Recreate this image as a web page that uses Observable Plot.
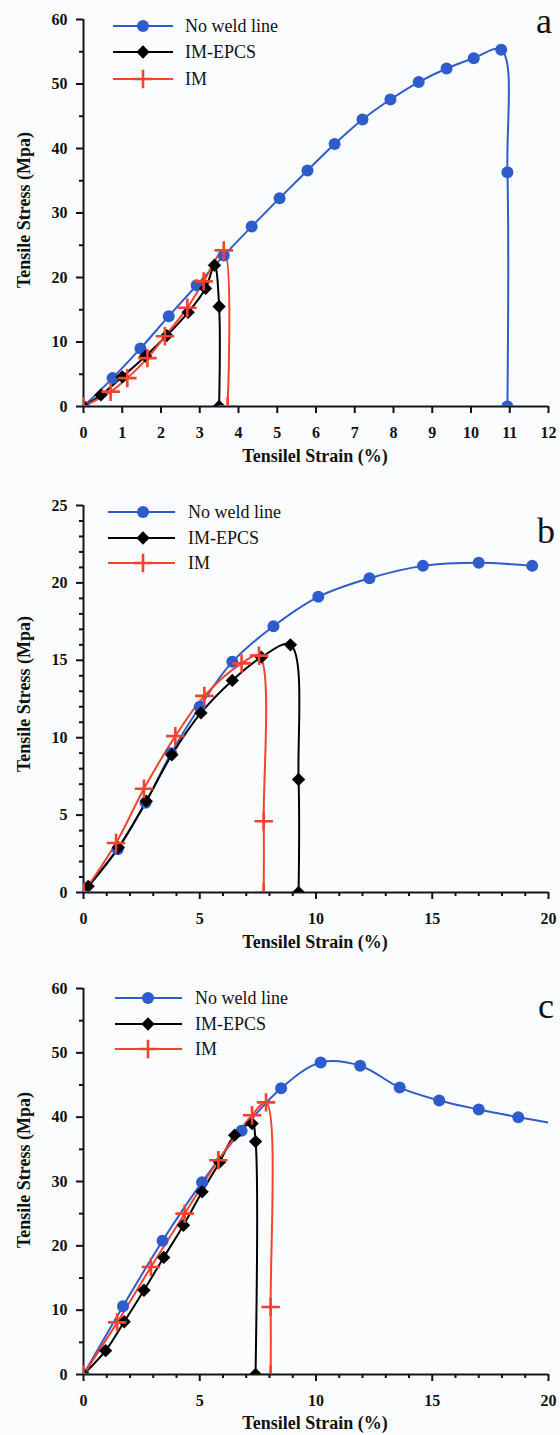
<!DOCTYPE html>
<html><head><meta charset="utf-8">
<script src="https://cdn.jsdelivr.net/npm/d3@7"></script>
<script src="https://cdn.jsdelivr.net/npm/@observablehq/plot@0.6"></script>
<style>
body{margin:0;background:#fbfcfe;}
#chart{width:560px;}
#chart svg{display:block;}
#chart svg text{font-family:"Liberation Serif","Times New Roman",serif !important;}
</style></head><body><div id="chart"></div>
<script>
const seriesNames = ["No weld line", "IM-EPCS", "IM"];
const seriesColors = ["#2f5ccc", "#000000", "#f2442c"];
const seriesSymbols = ["circle", "diamond2", "plus"];
const xTitle = "Tensilel Strain (%)";
const yTitle = "Tensile Stress (Mpa)";
const panelLetters = ["a", "b", "c"];

// Panel a
const aXTicks = [0,1,2,3,4,5,6,7,8,9,10,11,12];
const aYTicks = [0,10,20,30,40,50,60];
const aYMinor = [5,15,25,35,45,55];
const aNoWeldStrain = [0,0.75,1.47,2.2,2.92,3.62,4.34,5.06,5.78,6.48,7.2,7.92,8.65,9.37,10.07,10.78,10.94,10.94];
const aNoWeldStress = [0,4.4,9.0,14.0,18.8,23.4,27.9,32.3,36.6,40.7,44.5,47.6,50.3,52.4,54.0,55.3,36.3,0];
const aEpcsStrain = [0,0.45,1.0,1.6,2.15,2.7,3.15,3.38,3.5,3.5];
const aEpcsStress = [0,1.8,4.6,7.8,11.0,14.6,18.3,21.9,15.5,0];
const aImStrain = [0,0.7,1.13,1.65,2.1,2.68,3.1,3.62,3.72];
const aImStress = [0,2.3,4.4,7.5,10.9,15.3,19.4,24.2,0];

// Panel b
const bXTicks = [0,5,10,15,20];
const bXMinor = [1,2,3,4,6,7,8,9,11,12,13,14,16,17,18,19];
const bYTicks = [0,5,10,15,20,25];
const bYMinor = [1,2,3,4,6,7,8,9,11,12,13,14,16,17,18,19,21,22,23,24];
const bNoWeldStrain = [0,1.47,2.67,3.77,5.0,6.4,8.17,10.1,12.3,14.6,17.0,19.3];
const bNoWeldStress = [0,2.8,5.8,9.0,12.0,14.9,17.2,19.1,20.3,21.1,21.3,21.1];
const bEpcsStrain = [0.2,1.5,2.7,3.8,5.05,6.4,7.65,8.9,9.25,9.25];
const bEpcsStress = [0.4,2.9,5.9,8.9,11.6,13.7,15.2,16.0,7.3,0];
const bImStrain = [0,1.4,2.6,3.95,5.2,6.8,7.55,7.75,7.75];
const bImStress = [0,3.2,6.7,10.1,12.7,14.8,15.3,4.6,0];

// Panel c
const cXTicks = [0,5,10,15,20];
const cXMinor = [1,2,3,4,6,7,8,9,11,12,13,14,16,17,18,19];
const cYTicks = [0,10,20,30,40,50,60];
const cYMinor = [5,15,25,35,45,55];
const cNoWeldStrain = [0,1.7,3.4,5.1,6.8,8.5,10.2,11.9,13.6,15.3,17.0,18.7,20.4];
const cNoWeldStress = [0,10.6,20.8,29.9,37.9,44.5,48.5,48.0,44.6,42.6,41.2,40.0,38.9];
const cEpcsStrain = [0,0.95,1.75,2.6,3.45,4.3,5.1,5.85,6.5,7.25,7.4,7.4];
const cEpcsStress = [0,3.7,8.2,13.1,18.2,23.2,28.4,33.0,37.2,39.0,36.2,0];
const cImStrain = [0,1.45,2.9,4.35,5.8,7.25,7.85,8.05,8.05];
const cImStress = [0,8.1,16.7,25.0,33.3,40.3,42.3,10.5,0];

const FONT = "Liberation Serif";
const zipXY = (xs, ys) => xs.map((x, i) => ({x, y: ys[i]}));

function panel(cfg) {
  const series = cfg.series.map((s, i) => ({data: zipXY(s[0], s[1]), color: seriesColors[i], symbol: seriesSymbols[i]}));
  const marks = [
    Plot.axisX({ticks: cfg.xMinor || [], tickSize: 4, tickFormat: () => "", strokeWidth: 2, label: null}),
    Plot.axisX({ticks: cfg.xTicks, tickSize: 7, tickPadding: 13, fontSize: 16, fontWeight: "bold", fontFamily: FONT, strokeWidth: 2, label: null}),
    Plot.axisY({ticks: cfg.yMinor, tickSize: 4, tickFormat: () => "", strokeWidth: 2, label: null}),
    Plot.axisY({ticks: cfg.yTicks, tickSize: 7, tickPadding: 9, fontSize: 16, fontWeight: "bold", fontFamily: FONT, strokeWidth: 2, label: null}),
    Plot.ruleY([0], {strokeWidth: 2, stroke: "#151515"}),
    Plot.ruleX([0], {strokeWidth: 2, stroke: "#151515"})
  ];
  for (const s of series) {
    marks.push(Plot.line(s.data, {x: "x", y: "y", stroke: s.color, strokeWidth: 2, curve: "catmull-rom", clip: true}));
  }
  for (const s of series) {
    if (s.symbol === "plus") marks.push(Plot.dot(s.data, {x: "x", y: "y", symbol: "plus", r: 6, stroke: s.color, strokeWidth: 2.6, clip: true}));
    else marks.push(Plot.dot(s.data, {x: "x", y: "y", symbol: s.symbol, r: 6, fill: s.color, stroke: "none", clip: true}));
  }
  const svg = Plot.plot({
    width: 560, height: cfg.height,
    marginTop: cfg.marginTop, marginBottom: cfg.marginBottom, marginLeft: 83, marginRight: 12,
    style: {background: "transparent", fontFamily: FONT, color: "#111", overflow: "visible"},
    x: {domain: cfg.xDomain},
    y: {domain: cfg.yDomain},
    marks
  });
  const g = d3.select(svg).append("g").attr("font-family", FONT).attr("text-anchor", "start");
  // legend
  cfg.legendRows.forEach((ry, i) => {
    g.append("line").attr("x1", cfg.legend[0]).attr("x2", cfg.legend[1]).attr("y1", ry).attr("y2", ry)
      .attr("stroke", seriesColors[i]).attr("stroke-width", 2);
    const sym = {circle: d3.symbolCircle, diamond2: d3.symbolDiamond2, plus: d3.symbolPlus}[seriesSymbols[i]];
    const p = g.append("path").attr("d", d3.symbol(sym, Math.PI * 36)()).attr("transform", `translate(${cfg.legend[2]},${ry})`);
    if (seriesSymbols[i] === "plus") p.attr("fill", "none").attr("stroke", seriesColors[i]).attr("stroke-width", 2.6);
    else p.attr("fill", seriesColors[i]);
    g.append("text").attr("x", cfg.legend[3]).attr("y", ry + 6).attr("text-anchor", "start").attr("font-size", 18).attr("fill", "#111").text(seriesNames[i]);
  });
  g.append("text").attr("x", cfg.letterPos[0]).attr("y", cfg.letterPos[1]).attr("text-anchor", "start").attr("font-size", 36).attr("fill", "#111").text(cfg.letter);
  g.append("text").attr("x", 315).attr("y", cfg.xTitleY).attr("text-anchor", "middle").attr("font-size", 18).attr("font-weight", "bold").attr("fill", "#111").text(xTitle);
  g.append("text").attr("transform", `translate(30,${cfg.yTitleY}) rotate(-90)`).attr("text-anchor", "middle").attr("font-size", 18).attr("font-weight", "bold").attr("fill", "#111").text(yTitle);
  document.getElementById("chart").appendChild(svg);
}

panel({height: 475, marginTop: 19, marginBottom: 69, xDomain: [0, 12], yDomain: [0, 60],
  xTicks: aXTicks, yTicks: aYTicks, yMinor: aYMinor,
  series: [[aNoWeldStrain, aNoWeldStress], [aEpcsStrain, aEpcsStress], [aImStrain, aImStress]],
  legendRows: [26, 52, 79], legend: [113, 173, 143, 185], letter: panelLetters[0], letterPos: [536, 33],
  xTitleY: 462, yTitleY: 210});

panel({height: 480, marginTop: 30, marginBottom: 63, xDomain: [0, 20], yDomain: [0, 25],
  xTicks: bXTicks, xMinor: bXMinor, yTicks: bYTicks, yMinor: bYMinor,
  series: [[bNoWeldStrain, bNoWeldStress], [bEpcsStrain, bEpcsStress], [bImStrain, bImStress]],
  legendRows: [37, 63, 88], legend: [108, 175, 143, 188], letter: panelLetters[1], letterPos: [537, 68],
  xTitleY: 473, yTitleY: 219});

panel({height: 480, marginTop: 33, marginBottom: 61, xDomain: [0, 20], yDomain: [0, 60],
  xTicks: cXTicks, xMinor: cXMinor, yTicks: cYTicks, yMinor: cYMinor,
  series: [[cNoWeldStrain, cNoWeldStress], [cEpcsStrain, cEpcsStress], [cImStrain, cImStress]],
  legendRows: [43, 69, 94], legend: [115, 182, 148, 195], letter: panelLetters[2], letterPos: [538, 63],
  xTitleY: 474, yTitleY: 215});
</script></body></html>
